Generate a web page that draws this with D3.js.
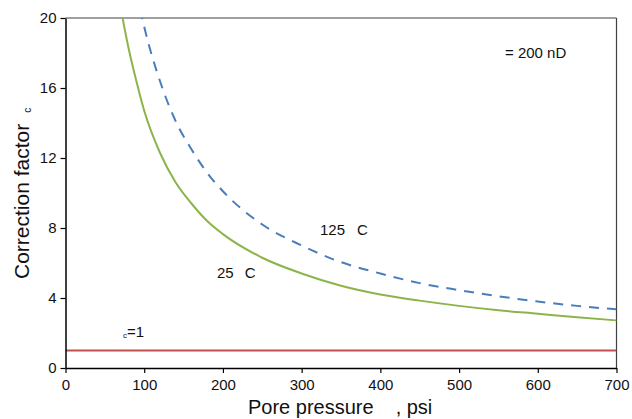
<!DOCTYPE html>
<html>
<head>
<meta charset="utf-8">
<script src="https://cdn.jsdelivr.net/npm/d3@7"></script>
<style>
  body { margin: 0; background: #fff; }
  svg { display: block; font-family: "Liberation Sans", Arial, sans-serif; }
</style>
</head>
<body>
<svg id="chart" width="632" height="419"></svg>
<script>
// values
var pressure25 = [70, 80, 90, 100, 120, 140, 160, 180, 200, 250, 300, 350, 400, 450, 500, 550, 600, 650, 700];
var factor25   = [20.6, 18.3, 16.4, 14.7, 12.3, 10.6, 9.4, 8.4, 7.65, 6.3, 5.4, 4.7, 4.2, 3.85, 3.55, 3.3, 3.1, 2.9, 2.72];

var pressure125 = [95, 100, 120, 140, 160, 180, 200, 250, 300, 350, 400, 450, 500, 550, 600, 650, 700];
var factor125   = [20.5, 19.5, 16.4, 14.1, 12.5, 11.15, 10.1, 8.2, 7.0, 6.05, 5.4, 4.85, 4.45, 4.1, 3.8, 3.55, 3.35];

var baseline = [{p: 0, f: 1}, {p: 700, f: 1}];

var xTicks = [0, 100, 200, 300, 400, 500, 600, 700];
var yTicks = [0, 4, 8, 12, 16, 20];

var svg = d3.select('#chart');
var mLeft = 65.5, mRight = 616.5, mTop = 18, mBottom = 368;

var x = d3.scaleLinear().domain([0, 700]).range([mLeft, mRight]);
var y = d3.scaleLinear().domain([0, 20]).range([mBottom, mTop]);

svg.append("clipPath").attr("id", "plotclip")
    .append("rect")
    .attr("x", mLeft).attr("y", mTop)
    .attr("width", mRight - mLeft).attr("height", mBottom - mTop);

// frame (top and right)
svg.append("line")
    .attr("x1", mLeft).attr("x2", mRight).attr("y1", mTop).attr("y2", mTop)
    .attr("stroke", "#404040").attr("stroke-width", 1.2);
svg.append("line")
    .attr("x1", mRight).attr("x2", mRight).attr("y1", mTop).attr("y2", mBottom)
    .attr("stroke", "#404040").attr("stroke-width", 1.2);

var line = d3.line()
    .x(function(d){ return x(d.p) })
    .y(function(d){ return y(d.f) })
    .curve(d3.curveMonotoneX);

var plot = svg.append("g").attr("clip-path", "url(#plotclip)");

plot.append("path")
    .datum(baseline)
    .attr("d", line)
    .attr("fill", "none")
    .attr("stroke", "#c0504d")
    .attr("stroke-width", 2);

plot.append("path")
    .datum(pressure25.map(function(p, i){ return {p: p, f: factor25[i]} }))
    .attr("d", line)
    .attr("fill", "none")
    .attr("stroke", "#8db44a")
    .attr("stroke-width", 2);

plot.append("path")
    .datum(pressure125.map(function(p, i){ return {p: p, f: factor125[i]} }))
    .attr("d", line)
    .attr("fill", "none")
    .attr("stroke", "#4a7ebb")
    .attr("stroke-width", 2)
    .attr("stroke-dasharray", "10,8");

// axes
var xAxis = svg.append("g")
    .attr("transform", "translate(0," + mBottom + ")")
    .call(d3.axisBottom(x).tickValues(xTicks).tickSize(5).tickSizeOuter(0));
var yAxis = svg.append("g")
    .attr("transform", "translate(" + mLeft + ",0)")
    .call(d3.axisLeft(y).tickValues(yTicks).tickSize(5).tickSizeOuter(0));

[xAxis, yAxis].forEach(function(a){
    a.select(".domain").attr("stroke", "#000").attr("stroke-width", 1.5);
    a.selectAll(".tick line").attr("stroke", "#000").attr("stroke-width", 1.2);
    a.selectAll(".tick text").attr("font-size", 15).attr("fill", "#111")
        .attr("font-family", "Liberation Sans, Arial, sans-serif");
});
xAxis.selectAll(".tick text").attr("dy", "0.95em");
yAxis.selectAll(".tick text").attr("dx", "-1px");

// axis titles
var xt = svg.append("text")
    .attr("x", 248).attr("y", 414)
    .attr("font-size", 20).attr("fill", "#111");
xt.append("tspan").text("Pore pressure");
xt.append("tspan").attr("dx", 22).text(", psi");

var yt = svg.append("text")
    .attr("transform", "translate(29,279) rotate(-90)")
    .attr("font-size", 21).attr("fill", "#111");
yt.append("tspan").text("Correction factor");
yt.append("tspan").attr("font-size", 10).attr("dx", 11).attr("dy", 2).text("c");

// annotations
svg.append("text").attr("x", 505).attr("y", 58)
    .attr("font-size", 15).attr("fill", "#111").text("= 200 nD");

var t125 = svg.append("text").attr("x", 320).attr("y", 235)
    .attr("font-size", 15).attr("fill", "#111");
t125.append("tspan").text("125");
t125.append("tspan").attr("dx", 12).text("C");

var t25 = svg.append("text").attr("x", 217).attr("y", 278)
    .attr("font-size", 15).attr("fill", "#111");
t25.append("tspan").text("25");
t25.append("tspan").attr("dx", 11).text("C");

var c1 = svg.append("text").attr("x", 123).attr("y", 337.5)
    .attr("font-size", 15).attr("fill", "#111");
c1.append("tspan").attr("font-size", 8).text("c");
c1.append("tspan").attr("dy", -1).text("=1");
</script>
</body>
</html>
